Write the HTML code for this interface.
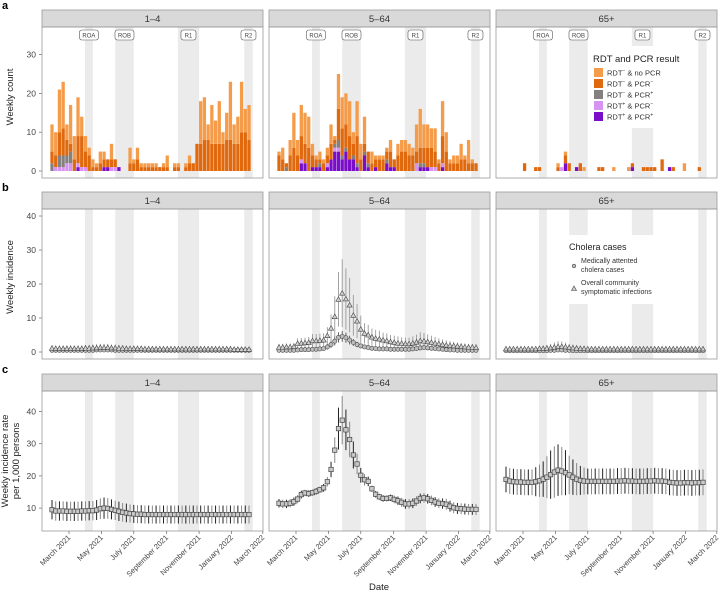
<!DOCTYPE html>
<html><head><meta charset="utf-8"><style>
html,body{margin:0;padding:0;background:#fff;}
svg{display:block;font-family:"Liberation Sans",sans-serif;}
</style></head><body>
<svg id="chart" width="722" height="595" viewBox="0 0 722 595" xmlns="http://www.w3.org/2000/svg"></svg>
<script>
// ---------- data ----------
const ageGroups = ["1–4","5–64","65+"];
const monthTickDays = [59,120,181,243,304,365,424];
const monthTickLabels = ["March 2021","May 2021","July 2021","September 2021","November 2021","January 2022","March 2022"];
const weekStartDay = 27; // first week, days since 2021-01-01
const periodNames = ["ROA","ROB","R1","R2"];
const periodStart = [89,146,264,389];
const periodEnd = [104,181,304,405];

// panel a: weekly counts (totals and stacked components)
const total14 = [12,10,21,23,12,17,9,19,14,9, 6,3,2,5,5,3,7,3,1,0, 0,6,3,6,2,2,2,2,2,1, 2,4,0,2,2,0,2,4,2,7, 18,19,12,17,13,18,10,15,23,12, 14,23,16,17];
const pcrNeg14 = [3,3,6,7,4,2,3,7,8,4, 4,1,1,2,2,2,2,2,0,0, 0,2,2,3,1,1,1,1,1,1, 1,1,0,1,1,0,1,2,2,7, 7,8,8,7,7,7,7,8,8,7, 7,10,10,8];
const pcrPos14 = [2,0,3,3,2,3,0,0,0,0, 0,0,0,0,0,0,0,0,0,0, 0,0,0,0,0,0,0,0,0,0, 0,0,0,0,0,0,0,0,0,0, 0,0,0,0,0,0,0,0,0,0, 0,0,0,0];
const rdtPosNeg14 = [0,1,1,1,2,2,0,1,1,1, 0,0,0,0,0,0,1,1,0,0, 0,0,0,0,0,0,0,0,0,0, 0,0,0,0,0,0,0,0,0,0, 0,0,0,0,0,0,0,0,0,0, 0,0,0,0];
const rdtPosPos14 = [0,0,0,0,0,0,0,1,0,0, 0,0,0,0,1,1,0,0,1,0, 0,0,0,0,0,0,0,0,0,0, 0,0,0,0,0,0,0,0,0,0, 0,0,0,0,0,0,0,0,0,0, 0,0,0,0];

const total564 = [5,6,2,8,15,8,17,15,14,7, 4,5,3,6,12,9,25,19,20,18, 10,18,7,14,5,5,4,4,4,6, 8,3,7,8,8,7,6,12,16,12, 12,11,11,3,18,10,3,4,4,7, 4,8,3,2];
const pcrNeg564 = [4,3,1,4,6,4,6,5,6,3, 2,1,2,2,4,1,8,7,6,6, 3,7,3,2,3,2,2,3,3,2, 4,2,4,5,5,4,4,3,4,4, 5,5,4,2,7,5,2,2,2,3, 3,2,2,2];
const pcrPos564 = [0,0,1,0,0,0,0,0,0,0, 0,1,0,0,0,1,2,1,1,0, 1,1,0,1,1,0,0,0,0,1, 0,0,0,0,0,0,0,0,1,1, 0,0,0,0,0,0,0,0,0,0, 0,0,0,0];
const rdtPosNeg564 = [0,0,0,0,0,0,1,0,0,0, 0,0,0,1,0,1,1,0,0,0, 0,0,0,0,0,0,0,0,0,0, 0,0,0,0,0,0,0,2,0,0, 0,1,1,0,1,0,0,0,0,0, 0,0,0,0];
const rdtPosPos564 = [0,0,0,0,0,0,2,2,0,1, 1,1,0,1,3,5,5,3,5,3, 3,1,0,4,1,0,1,0,0,2, 1,1,0,0,0,0,0,0,1,1, 1,0,0,0,1,0,0,0,0,0, 0,0,0,0];

const total65 = [0,0,0,0,0,2,0,0,1,1, 0,0,0,0,2,1,5,2,0,1, 2,1,0,0,0,1,1,0,0,1, 0,0,0,1,2,0,0,1,1,1, 1,0,3,0,1,1,0,0,2,0, 0,0,1,0];
const pcrNeg65 = [0,0,0,0,0,2,0,0,1,1, 0,0,0,0,1,0,2,2,0,0, 2,0,0,0,0,1,1,0,0,0, 0,0,0,0,1,0,0,1,1,1, 1,0,3,0,0,1,0,0,0,0, 0,0,1,0];
const pcrPos65 = [0,0,0,0,0,0,0,0,0,0, 0,0,0,0,0,0,0,0,0,0, 0,0,0,0,0,0,0,0,0,0, 0,0,0,0,0,0,0,0,0,0, 0,0,0,0,0,0,0,0,0,0, 0,0,0,0];
const rdtPosNeg65 = [0,0,0,0,0,0,0,0,0,0, 0,0,0,0,0,1,0,0,0,0, 0,0,0,0,0,0,0,0,0,0, 0,0,0,0,0,0,0,0,0,0, 0,0,0,0,0,0,0,0,0,0, 0,0,0,0];
const rdtPosPos65 = [0,0,0,0,0,0,0,0,0,0, 0,0,0,0,0,0,2,0,0,1, 0,0,0,0,0,0,0,0,0,0, 0,0,0,0,1,0,0,0,0,0, 0,0,0,0,1,0,0,0,0,0, 0,0,0,0];

// panel b: weekly incidence (triangles = community, circles = medically attended)
const tri14 = [1.1,1.0,1.0,1.0,1.0,1.0,1.0,1.0,1.0,1.1, 1.1,1.2,1.2,1.3,1.3,1.3,1.2,1.2,1.1,1.1, 1.0,1.0,1.0,1.0,1.0,0.9,0.9,0.9,0.9,0.9, 0.9,0.9,0.9,0.9,0.9,0.9,0.9,0.9,0.9,0.9, 0.9,0.9,0.9,0.9,0.9,0.9,0.9,0.9,0.9,0.8, 0.8,0.8,0.8,0.8];
const triErr14 = [0.9,0.9,0.9,0.9,0.9,0.9,0.9,0.9,0.9,1.0, 1.0,1.0,1.1,1.1,1.1,1.1,1.0,1.0,1.0,0.9, 0.9,0.8,0.8,0.8,0.8,0.8,0.8,0.8,0.8,0.8, 0.8,0.8,0.8,0.8,0.8,0.8,0.8,0.8,0.8,0.8, 0.8,0.8,0.8,0.8,0.8,0.8,0.8,0.8,0.8,0.7, 0.7,0.7,0.7,0.7];
const circ14 = [0.5,0.5,0.5,0.5,0.5,0.5,0.5,0.5,0.5,0.5, 0.5,0.5,0.6,0.6,0.6,0.6,0.6,0.5,0.5,0.5, 0.5,0.5,0.5,0.5,0.5,0.5,0.5,0.5,0.5,0.5, 0.5,0.5,0.5,0.5,0.5,0.5,0.5,0.5,0.5,0.5, 0.5,0.5,0.5,0.5,0.5,0.5,0.5,0.5,0.5,0.5, 0.5,0.5,0.5,0.5];
const circErr14 = [0.3,0.3,0.3,0.3,0.3,0.3,0.3,0.3,0.3,0.3, 0.3,0.3,0.3,0.3,0.3,0.3,0.3,0.3,0.3,0.3, 0.3,0.3,0.3,0.3,0.3,0.3,0.3,0.3,0.3,0.3, 0.3,0.3,0.3,0.3,0.3,0.3,0.3,0.3,0.3,0.3, 0.3,0.3,0.3,0.3,0.3,0.3,0.3,0.3,0.3,0.3, 0.3,0.3,0.3,0.3];

const tri564 = [1.4,1.4,1.5,1.5,1.6,2.5,2.6,2.7,2.8,3.3, 3.3,3.4,3.5,4.8,7.0,10.4,15.5,17.3,15.6,13.8, 10.8,9.1,6.7,5.5,5.0,4.4,4.0,3.8,3.5,3.3, 3.0,2.8,2.6,2.5,2.4,2.4,2.6,2.9,3.3,3.2, 3.0,2.8,2.6,2.4,2.2,2.0,1.9,1.8,1.7,1.6, 1.5,1.4,1.4,1.3];
const triErr564 = [1,1,1,1,1,1.5,1.5,1.5,1.6,2, 2,2,2,2.5,4,6,8,10,9,8, 6,5,4,3,3,2.5,2.5,2.5,2.2,2.2, 2,2,2,1.8,1.8,1.8,2,2.2,2.5,2.4, 2.2,2,1.8,1.6,1.5,1.4,1.3,1.2,1.1,1, 1,1,1,1];
const circ564 = [0.5,0.5,0.5,0.5,0.5,0.6,0.7,0.7,0.7,0.8, 0.8,0.9,1.0,1.5,2.2,3.2,4.3,4.6,4.2,3.5, 2.8,2.2,1.8,1.5,1.3,1.1,1.0,0.9,0.9,0.9, 0.8,0.8,0.8,0.8,0.8,0.8,0.9,1.0,1.2,1.3, 1.2,1.1,1.0,0.9,0.8,0.7,0.6,0.6,0.5,0.5, 0.5,0.5,0.5,0.5];
const circErr564 = [0.5,0.5,0.5,0.5,0.5,0.5,0.5,0.5,0.5,0.5, 0.5,0.5,0.6,0.8,1.0,1.3,1.5,1.6,1.5,1.3, 1.0,0.8,0.7,0.6,0.5,0.5,0.5,0.5,0.5,0.5, 0.5,0.5,0.5,0.5,0.5,0.5,0.5,0.5,0.6,0.6, 0.6,0.5,0.5,0.5,0.5,0.5,0.5,0.5,0.5,0.5, 0.5,0.5,0.5,0.5];

const tri65 = [0.9,0.9,0.9,0.9,0.9,0.9,0.9,0.9,0.9,1.0, 1.0,1.1,1.2,1.4,1.6,1.6,1.5,1.3,1.2,1.1, 1.0,1.0,0.9,0.9,0.9,0.9,0.9,0.9,0.9,0.9, 0.9,0.9,0.9,0.9,0.9,0.9,0.9,0.9,0.9,0.9, 0.9,0.9,0.9,0.9,0.9,0.9,0.9,0.9,0.9,0.9, 0.9,0.9,0.9,0.9];
const triErr65 = [0.6,0.6,0.6,0.6,0.6,0.6,0.6,0.6,0.7,0.8, 0.9,1.0,1.2,1.4,1.6,1.5,1.3,1.1,1.0,0.9, 0.8,0.7,0.6,0.6,0.6,0.6,0.6,0.6,0.6,0.6, 0.6,0.6,0.6,0.6,0.6,0.6,0.6,0.6,0.6,0.6, 0.6,0.6,0.6,0.6,0.6,0.6,0.6,0.6,0.6,0.6, 0.6,0.6,0.6,0.6];
const circ65 = [0.4,0.4,0.4,0.4,0.4,0.4,0.4,0.4,0.4,0.4, 0.4,0.4,0.5,0.5,0.6,0.6,0.5,0.5,0.4,0.4, 0.4,0.4,0.4,0.4,0.4,0.4,0.4,0.4,0.4,0.4, 0.4,0.4,0.4,0.4,0.4,0.4,0.4,0.4,0.4,0.4, 0.4,0.4,0.4,0.4,0.4,0.4,0.4,0.4,0.4,0.4, 0.4,0.4,0.4,0.4];
const circErr65 = [0.3,0.3,0.3,0.3,0.3,0.3,0.3,0.3,0.3,0.3, 0.3,0.3,0.3,0.3,0.3,0.3,0.3,0.3,0.3,0.3, 0.3,0.3,0.3,0.3,0.3,0.3,0.3,0.3,0.3,0.3, 0.3,0.3,0.3,0.3,0.3,0.3,0.3,0.3,0.3,0.3, 0.3,0.3,0.3,0.3,0.3,0.3,0.3,0.3,0.3,0.3, 0.3,0.3,0.3,0.3];

// panel c: weekly incidence rate per 1,000
const rate14 = [9.5,9.1,9.1,9.1,9.0,9.0,9.0,9.0,9.1,9.1, 9.2,9.2,9.4,9.8,10.0,9.9,9.6,9.3,9.0,8.7, 8.5,8.3,8.2,8.1,8.1,8.0,8.0,8.0,8.0,8.0, 8.0,8.0,8.0,8.0,8.0,8.0,8.0,8.0,8.0,8.0, 8.0,8.0,8.0,8.0,8.0,8.0,8.0,8.0,8.0,8.0, 8.0,8.0,8.0,8.0];
const rateErr14 = [3.0,3.0,3.0,3.0,3.0,3.0,3.0,3.0,3.0,3.0, 3.0,3.0,3.1,3.2,3.3,3.2,3.1,3.0,3.0,2.9, 2.9,2.8,2.8,2.8,2.8,2.8,2.8,2.8,2.8,2.8, 2.8,2.8,2.8,2.8,2.8,2.8,2.8,2.8,2.8,2.8, 2.8,2.8,2.8,2.8,2.8,2.8,2.8,2.8,2.8,2.8, 2.8,2.8,2.8,2.8];
const rate564 = [11.5,11.3,11.3,11.5,12.0,12.8,14.2,14.7,14.5,14.8, 15.2,15.7,16.3,18.2,22.0,28.0,34.7,37.3,34.3,31.3, 26.5,23.7,20.2,18.8,18.3,16.0,14.3,13.5,13.0,13.0, 13.2,12.7,12.3,11.8,11.3,11.3,11.5,12.2,13.0,13.2, 12.9,12.4,11.9,11.5,11.4,11.2,10.6,10.1,9.9,9.8, 9.7,9.6,9.6,9.6];
const rateErr564 = [1.3,1.3,1.3,1.3,1.3,1.3,1.2,1.0,1.0,1.0, 1.0,1.0,1.2,1.5,2.4,4.0,6.5,7.5,6.3,5.5, 4.2,3.2,2.3,1.8,1.5,1.0,1.0,1.0,1.0,1.0, 1.0,1.2,1.3,1.4,1.5,1.5,1.5,1.5,1.5,1.5, 1.5,1.5,1.5,1.5,1.6,1.7,1.7,1.7,1.7,1.7, 1.7,1.7,1.7,1.7];
const rate65 = [18.9,18.4,18.2,18.1,18.1,18.0,18.0,18.0,18.2,18.5, 19.0,19.6,20.4,21.2,21.8,21.5,21.0,20.3,19.6,19.0, 18.6,18.4,18.3,18.3,18.3,18.3,18.3,18.3,18.3,18.3, 18.4,18.4,18.5,18.4,18.4,18.3,18.3,18.3,18.4,18.4, 18.5,18.4,18.4,18.3,18.0,17.9,17.8,17.8,17.9,17.9, 17.8,17.9,17.9,18.0];
const rateErr65 = [4,4,4,4,4,4,4,4,4.5,5, 5.5,6.5,7.5,8,8,7.5,7,6,5.5,5, 4.5,4.2,4,4,4,4,4,4,4,4, 4,4,4,4,4,4,4,4,4,4, 4,4,4,4,4,4,4,4,4,4, 4,4,4,4];

// ---------- drawing ----------
const NS="http://www.w3.org/2000/svg";
const svg=document.getElementById("chart");
function mk(tag,attrs,parent){const e=document.createElementNS(NS,tag);for(const k in attrs)e.setAttribute(k,attrs[k]);(parent||svg).appendChild(e);return e;}
function txt(s,attrs,parent){const e=mk("text",attrs,parent);e.textContent=s;return e;}

const panelX=[42,269,496], panelW=221;
const rows=[
 {letter:"a",stripTop:10,plotTop:27,plotBot:178,y0:171,k:3.88,ticks:[0,10,20,30]},
 {letter:"b",stripTop:192,plotTop:209,plotBot:359,y0:352,k:3.4,ticks:[0,10,20,30,40]},
 {letter:"c",stripTop:374,plotTop:391,plotBot:531,y0:540.3,k:3.22,ticks:[10,20,30,40]}
];
function xDay(p,day){return panelX[p]+27+(day-59)*0.531;}
function xWeek(p,i){return xDay(p,weekStartDay+7*i);}
function yVal(r,v){return rows[r].y0-v*rows[r].k;}

const C={noPCR:"#f59c4a",neg:"#e0690e",pos:"#858080",lil:"#d793f2",pur:"#7a0dc8"};

const barData=[
 {tot:total14,neg:pcrNeg14,pos:pcrPos14,lil:rdtPosNeg14,pur:rdtPosPos14},
 {tot:total564,neg:pcrNeg564,pos:pcrPos564,lil:rdtPosNeg564,pur:rdtPosPos564},
 {tot:total65,neg:pcrNeg65,pos:pcrPos65,lil:rdtPosNeg65,pur:rdtPosPos65}
];
const incData=[
 {tri:tri14,triE:triErr14,circ:circ14,circE:circErr14},
 {tri:tri564,triE:triErr564,circ:circ564,circE:circErr564},
 {tri:tri65,triE:triErr65,circ:circ65,circE:circErr65}
];
const rateData=[{v:rate14,e:rateErr14},{v:rate564,e:rateErr564},{v:rate65,e:rateErr65}];

rows.forEach((row,r)=>{
  const lt=txt(row.letter,{x:2,y:row.stripTop-1,"font-size":11,"font-weight":"bold",fill:"#000"});
  
  
  // y ticks
  row.ticks.forEach(t=>{
    const y=yVal(r,t);
    mk("line",{x1:39,x2:42,y1:y,y2:y,stroke:"#666","stroke-width":0.7});
    const tl=txt(String(t),{x:36,y:y+3,"font-size":8.5,fill:"#444","text-anchor":"end"});
    
    
  });
  for(let p=0;p<3;p++){
    const g=mk("g",{});
    
    
    mk("rect",{x:panelX[p],y:row.plotTop,width:panelW,height:row.plotBot-row.plotTop,fill:"#fff"},g);
    // shaded periods
    for(let s=0;s<4;s++){
      const sh=mk("rect",{x:xDay(p,periodStart[s]),y:row.plotTop,width:xDay(p,periodEnd[s])-xDay(p,periodStart[s]),height:row.plotBot-row.plotTop,fill:"#ebebeb"},g);
      
      
    }
    // strip
    const st=mk("rect",{x:panelX[p],y:row.stripTop,width:panelW,height:row.plotTop-row.stripTop,fill:"#d9d9d9",stroke:"#9a9a9a","stroke-width":0.8},g);
    
    
    const sl=txt(ageGroups[p],{x:panelX[p]+panelW/2,y:row.stripTop+12,"font-size":9.5,fill:"#333","text-anchor":"middle"},g);
    
    
    row.g=row.g||[];row.g[p]=g;
  }
});

// period labels in row a
for(let p=0;p<3;p++){
  for(let s=0;s<4;s++){
    const cx=(xDay(p,periodStart[s])+xDay(p,periodEnd[s]))/2;
    const w=periodNames[s].length>2?19:15;
    const b=mk("rect",{x:cx-w/2,y:30,width:w,height:10,rx:2.5,fill:"#fff",stroke:"#555","stroke-width":0.6});
    
    
    const t=txt(periodNames[s],{x:cx,y:37.6,"font-size":6,fill:"#444","text-anchor":"middle"});
    
    
  }
}

// legends (drawn before marks? marks are low; draw white box first)
function legendA(){
  const g=mk("g",{});
  
  
  mk("rect",{x:590,y:46,width:92,height:82,fill:"#fff"},g);
  txt("RDT and PCR result",{x:593,y:62,"font-size":9.5,fill:"#222"},g);
  const items=[["noPCR","RDT","−"," & no PCR",""],["neg","RDT","−"," & PCR","−"],["pos","RDT","−"," & PCR","+"],["lil","RDT","+"," & PCR","−"],["pur","RDT","+"," & PCR","+"]];
  items.forEach((it,i)=>{
    const y=68+i*11;
    const sw=mk("rect",{x:594,y:y,width:9,height:9,fill:C[it[0]]},g);
    
    
    const t=mk("text",{x:607,y:y+7.5,"font-size":7.5,fill:"#333"},g);
    
    
    t.appendChild(document.createTextNode(it[1]));
    const s1=mk("tspan",{dy:-3,"font-size":5},t);s1.textContent=it[2];
    const s2=mk("tspan",{dy:3},t);s2.textContent=it[3];
    if(it[4]){const s3=mk("tspan",{dy:-3,"font-size":5},t);s3.textContent=it[4];}
  });
}
function legendB(){
  const g=mk("g",{});
  
  
  mk("rect",{x:566,y:235,width:90,height:69,fill:"#fff"},g);
  txt("Cholera cases",{x:569,y:250,"font-size":9,fill:"#222"},g);
  mk("circle",{cx:574,cy:266,r:1.8,fill:"#bbb",stroke:"#444","stroke-width":0.6},g);
  txt("Medically attented",{x:581,y:263,"font-size":7,fill:"#333"},g);
  txt("cholera cases",{x:581,y:272,"font-size":7,fill:"#333"},g);
  mk("path",{d:"M571.5 290.5 L576.5 290.5 L574 286 Z",fill:"#ccc",stroke:"#444","stroke-width":0.6},g);
  txt("Overall community",{x:581,y:285,"font-size":7,fill:"#333"},g);
  txt("symptomatic infections",{x:581,y:294,"font-size":7,fill:"#333"},g);
}
legendA();legendB();

// bars row a
for(let p=0;p<3;p++){
  const d=barData[p];
  for(let i=0;i<d.tot.length;i++){
    const segs=[["pur",d.pur[i]],["lil",d.lil[i]],["pos",d.pos[i]],["neg",d.neg[i]]];
    let sum=0;segs.forEach(s=>sum+=s[1]);
    segs.push(["noPCR",Math.max(0,d.tot[i]-sum)]);
    let base=0;const x=xWeek(p,i)-1.65;
    segs.forEach(s=>{
      if(s[1]<=0)return;
      const y1=yVal(0,base+s[1]),y2=yVal(0,base);
      const b=mk("rect",{x:x,y:y1,width:3.3,height:y2-y1,fill:C[s[0]]});
      
      
      base+=s[1];
    });
  }
}

// incidence row b
for(let p=0;p<3;p++){
  const d=incData[p];
  for(let i=0;i<d.tri.length;i++){
    const x=xWeek(p,i);
    const e=mk("line",{x1:x,x2:x,y1:yVal(1,d.tri[i]+d.triE[i]),y2:yVal(1,Math.max(0,d.tri[i]-d.triE[i])),stroke:"#999","stroke-width":0.9});
    
    
  }
  for(let i=0;i<d.circ.length;i++){
    const x=xWeek(p,i);
    const e=mk("line",{x1:x,x2:x,y1:yVal(1,d.circ[i]+d.circE[i]),y2:yVal(1,Math.max(0,d.circ[i]-d.circE[i])),stroke:"#555","stroke-width":0.9});
    
    
  }
  for(let i=0;i<d.circ.length;i++){
    const c=mk("circle",{cx:xWeek(p,i),cy:yVal(1,d.circ[i]),r:2.1,fill:"#bdbdbd",stroke:"#444","stroke-width":0.6});
    
    
  }
  for(let i=0;i<d.tri.length;i++){
    const x=xWeek(p,i),y=yVal(1,d.tri[i]);
    const t=mk("path",{d:`M${x-2.6} ${y+2} L${x+2.6} ${y+2} L${x} ${y-2.6} Z`,fill:"#d0d0d0",stroke:"#444","stroke-width":0.6});
    
    
  }
}

// rate row c
for(let p=0;p<3;p++){
  const d=rateData[p];
  for(let i=0;i<d.v.length;i++){
    const x=xWeek(p,i);
    const e=mk("line",{x1:x,x2:x,y1:yVal(2,d.v[i]+d.e[i]),y2:yVal(2,d.v[i]-d.e[i]),stroke:i%2?"#888":"#222","stroke-width":1});
    
    
  }
  for(let i=0;i<d.v.length;i++){
    const x=xWeek(p,i),y=yVal(2,d.v[i]);
    const s=mk("rect",{x:x-2.2,y:y-2.2,width:4.4,height:4.4,fill:"#c9c9c9",stroke:"#444","stroke-width":0.7});
    
    
  }
}

// panel borders
rows.forEach(row=>{
  for(let p=0;p<3;p++){
    mk("rect",{x:panelX[p],y:row.plotTop,width:panelW,height:row.plotBot-row.plotTop,fill:"none",stroke:"#9a9a9a","stroke-width":0.8});
  }
});

// x axis ticks row c
for(let p=0;p<3;p++){
  monthTickDays.forEach((dd,j)=>{
    const x=xDay(p,dd);
    mk("line",{x1:x,x2:x,y1:531,y2:534,stroke:"#666","stroke-width":0.7});
    const t=txt(monthTickLabels[j],{x:x+2,y:538,"font-size":7.5,fill:"#444","text-anchor":"end",transform:`rotate(-45 ${x+2} 538)`});
    
    
  });
}

// axis titles
const t1=txt("Weekly count",{x:0,y:0,"font-size":9.5,fill:"#222","text-anchor":"middle",transform:"translate(13 97) rotate(-90)"});


const t2=txt("Weekly incidence",{x:0,y:0,"font-size":9.5,fill:"#222","text-anchor":"middle",transform:"translate(13 277) rotate(-90)"});


const t3=txt("Weekly incidence rate",{x:0,y:0,"font-size":9.5,fill:"#222","text-anchor":"middle",transform:"translate(8 461) rotate(-90)"});


const t4=txt("per 1,000 persons",{x:0,y:0,"font-size":9.5,fill:"#222","text-anchor":"middle",transform:"translate(19 461) rotate(-90)"});


const t5=txt("Date",{x:379,y:590,"font-size":9.5,fill:"#222","text-anchor":"middle"});


</script>
</body></html>
